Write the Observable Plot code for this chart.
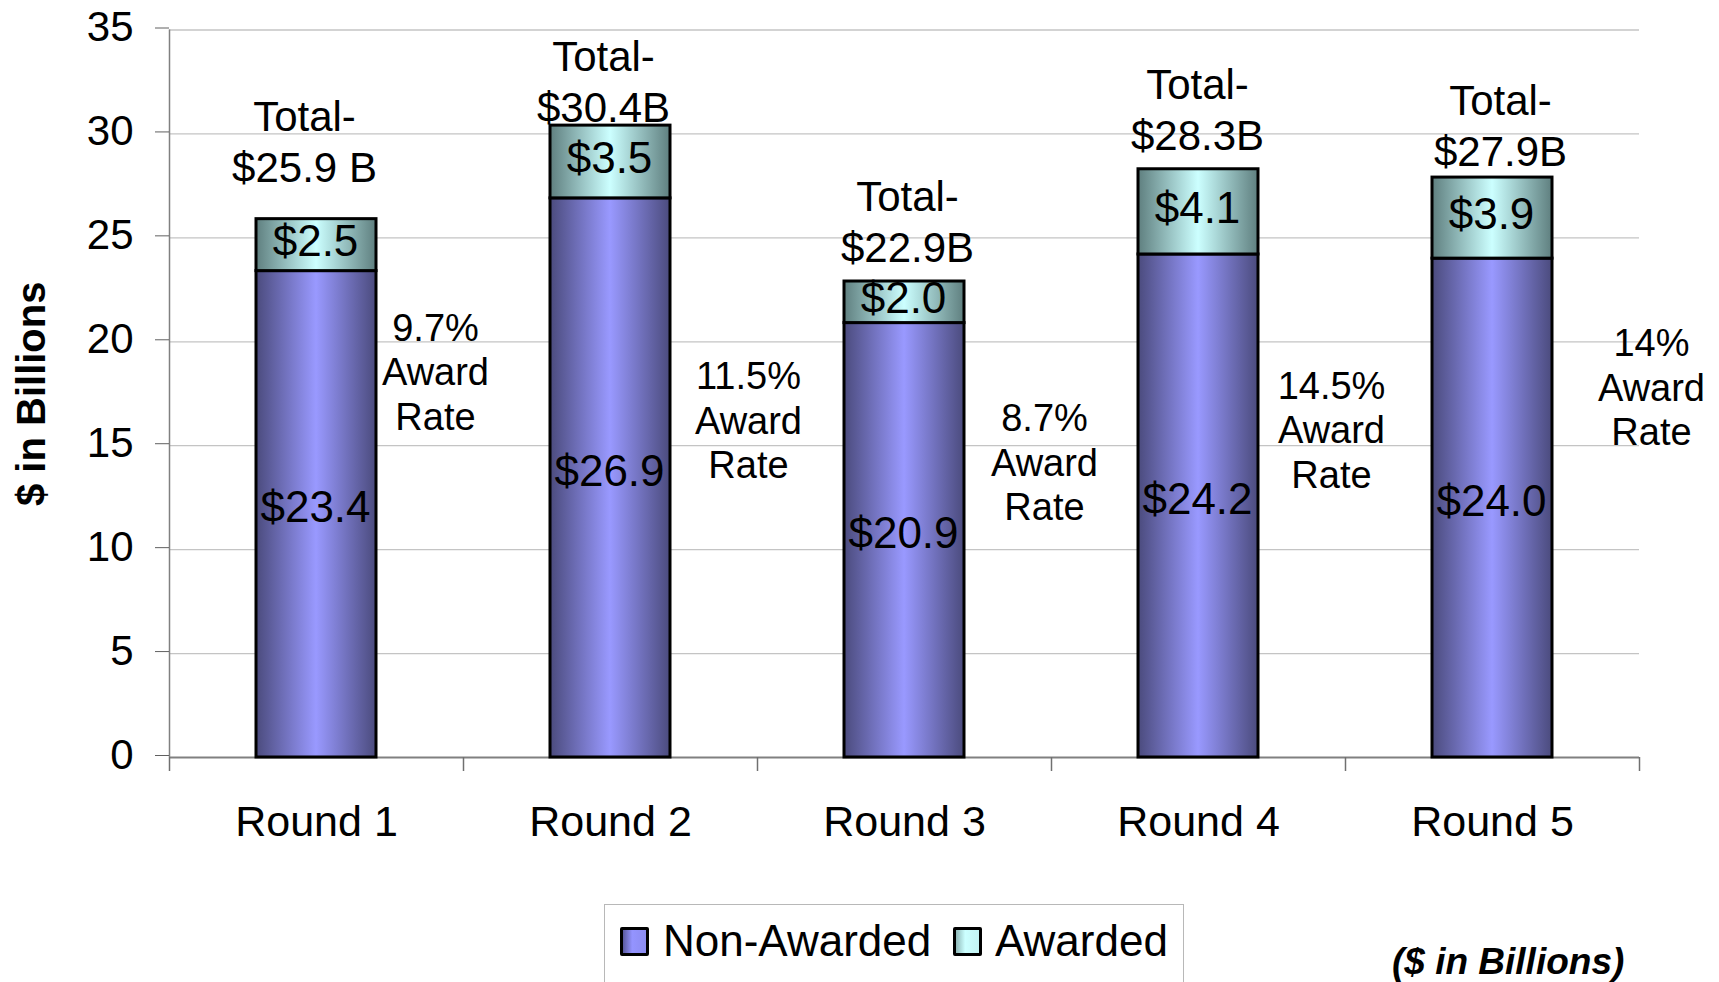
<!DOCTYPE html>
<html>
<head>
<meta charset="utf-8">
<script src="https://cdn.jsdelivr.net/npm/d3@7"></script>
<script src="https://cdn.jsdelivr.net/npm/@observablehq/plot@0.6"></script>
<style>
  html, body { margin: 0; padding: 0; background: #fff; }
  #wrap { position: relative; width: 1719px; height: 982px; overflow: hidden; font-family: "Liberation Sans", Arial, sans-serif; }
  #legend { position: absolute; left: 604px; top: 904px; width: 580px; height: 100px; border: 1.5px solid #b8b8b8; box-sizing: border-box; }
  .sw { position: absolute; top: 22px; width: 23px; height: 23px; border: 3px solid #000; border-radius: 2px; }
  .lt { position: absolute; top: 36px; transform: translateY(-50%); font-size: 44px; line-height: 1; color: #000; white-space: nowrap; }
  #caption { position: absolute; left: 1392px; top: 961px; transform: translateY(-50%); font-size: 37px; font-weight: bold; font-style: italic; line-height: 1; white-space: nowrap; }
</style>
</head>
<body>
<div id="wrap">
  <div id="chart"></div>
  <div id="legend"></div>
  <div id="caption"></div>
</div>
<script>
// ---- data ----
const rounds = ["Round 1", "Round 2", "Round 3", "Round 4", "Round 5"];
const nonAwarded = [23.4, 26.9, 20.9, 24.2, 24.0];
const awarded = [2.5, 3.5, 2.0, 4.1, 3.9];
const totalLabels = ["Total-\n$25.9 B", "Total-\n$30.4B", "Total-\n$22.9B", "Total-\n$28.3B", "Total-\n$27.9B"];
const awardRates = ["9.7%", "11.5%", "8.7%", "14.5%", "14%"];
const yTicks = [0, 5, 10, 15, 20, 25, 30, 35];
const seriesNames = ["Non-Awarded", "Awarded"];
const yTitle = "$ in Billions";
const captionText = "($ in Billions)";

// ---- layout (styling offsets, px) ----
const W = 1719, H = 900;
const mL = 169, mR = 80, mT = 29.5, mB = 143;
const step = (W - mL - mR) / rounds.length;
const barInset = 87;
const pxPerUnit = (H - mT - mB) / 35;
const tickLen = 14;
const totalDx = [-12, -7, 3, -1, 8];
const totalDy = [-79, -45, -61, -61, -53];
const rateDx = [119, 138, 140, 133, 159];
const rateDy = [152, 294, 180, 260, 209];

const rows = rounds.map((r, i) => ({
  round: r,
  non: nonAwarded[i],
  aw: awarded[i],
  total: nonAwarded[i] + awarded[i],
  totalLabel: totalLabels[i],
  rate: awardRates[i] + "\nAward\nRate"
}));

const fmt = v => "$" + v.toFixed(1);

const totalMarks = rows.map((d, i) => Plot.text([d], {
  x: "round", y: "total", text: "totalLabel",
  fontSize: 42, lineHeight: 1.21, fill: "black", dx: totalDx[i], dy: totalDy[i]
}));
const rateMarks = rows.map((d, i) => Plot.text([d], {
  x: "round", y: "total", text: "rate",
  fontSize: 38, lineHeight: 1.17, fill: "black", dx: rateDx[i], dy: rateDy[i]
}));

const chart = Plot.plot({
  width: W, height: H,
  marginLeft: mL, marginRight: mR, marginTop: mT, marginBottom: mB,
  x: { domain: rounds, padding: 0, axis: null },
  y: { domain: [0, 35], axis: null },
  style: { fontFamily: "'Liberation Sans', Arial, sans-serif", background: "white", overflow: "visible" },
  marks: [
    Plot.gridY(yTicks.filter(t => t > 0), { stroke: "#c4c4c4", strokeOpacity: 1, strokeWidth: 1.3 }),
    // y axis line
    Plot.ruleX([rounds[0]], { x: d => d, dx: -step / 2, y1: 0, y2: 35, stroke: "#808080", strokeWidth: 1.5 }),
    // x axis line
    Plot.ruleY([0], { stroke: "#808080", strokeWidth: 2 }),
    // category separators
    Plot.ruleX(rounds, { x: d => d, dx: -step / 2, y1: 0, y2: -tickLen / pxPerUnit, stroke: "#707070", strokeWidth: 1.5 }),
    Plot.ruleX([rounds[rounds.length - 1]], { x: d => d, dx: step / 2, y1: 0, y2: -tickLen / pxPerUnit, stroke: "#707070", strokeWidth: 1.5 }),
    Plot.axisY({ ticks: yTicks, tickSize: tickLen, tickPadding: 22, fontSize: 42, stroke: "#606060", fill: "black", tickFormat: d => d, dy: -2, label: null }),
    Plot.axisX({ tickSize: 0, tickPadding: 48, fontSize: 43, fill: "black", label: null }),
    Plot.text([yTitle], { frameAnchor: "left", textAnchor: "middle", dx: -137, rotate: -90, fontSize: 40, fontWeight: "bold", fill: "black" }),
    Plot.barY(rows, { x: "round", y1: 0, y2: "non", fill: "url(#gNon)", stroke: "black", strokeWidth: 3, insetLeft: barInset, insetRight: barInset }),
    Plot.barY(rows, { x: "round", y1: "non", y2: "total", fill: "url(#gAw)", stroke: "black", strokeWidth: 3, insetLeft: barInset, insetRight: barInset }),
    Plot.text(rows, { x: "round", y: d => d.non / 2, text: d => fmt(d.non), fontSize: 44, fill: "black", dx: -1, dy: -6 }),
    Plot.text(rows, { x: "round", y: d => d.non + d.aw / 2, text: d => fmt(d.aw), fontSize: 44, fill: "black", dx: -1, dy: -3 }),
    ...totalMarks,
    ...rateMarks
  ]
});

// gradients
const svg = d3.select(chart);
const defs = svg.insert("defs", ":first-child");
function grad(id, edge, mid) {
  const g = defs.append("linearGradient").attr("id", id).attr("x1", "0").attr("x2", "1").attr("y1", "0").attr("y2", "0");
  g.append("stop").attr("offset", "0%").attr("stop-color", edge);
  g.append("stop").attr("offset", "50%").attr("stop-color", mid);
  g.append("stop").attr("offset", "100%").attr("stop-color", edge);
}
grad("gNon", "#4b4b7d", "#9999ff");
grad("gAw", "#5f7f7f", "#ccffff");

document.getElementById("chart").appendChild(chart);

// legend
const legend = document.getElementById("legend");
const swatchCss = [
  "linear-gradient(to right, #5a5aa0, #9494ff 40%, #8c8cf0)",
  "linear-gradient(to right, #8fb8b8, #ccffff 40%, #c4f4f4)"
];
const swX = [15, 348], txtX = [58, 390];
seriesNames.forEach((name, i) => {
  const sw = document.createElement("div");
  sw.className = "sw";
  sw.style.left = swX[i] + "px";
  sw.style.background = swatchCss[i];
  legend.appendChild(sw);
  const t = document.createElement("div");
  t.className = "lt";
  t.style.left = txtX[i] + "px";
  t.textContent = name;
  legend.appendChild(t);
});
document.getElementById("caption").textContent = captionText;
</script>
</body>
</html>
